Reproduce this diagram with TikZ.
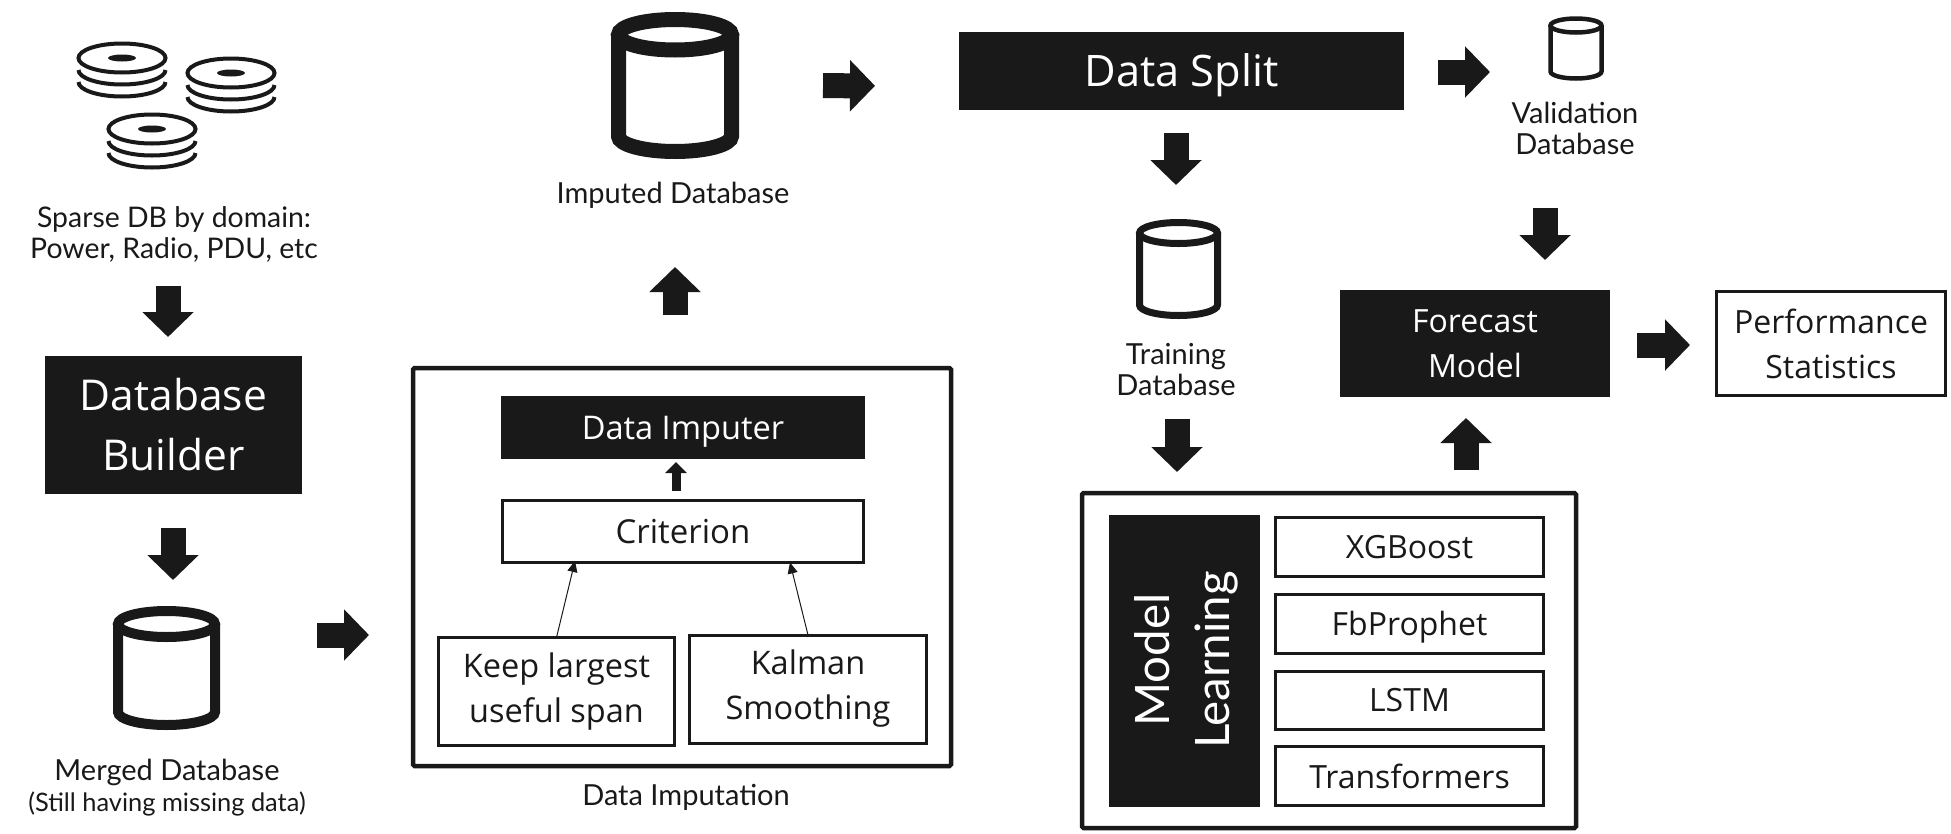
\documentclass[tikz,border=0pt]{standalone}
\usepackage{fontspec}
\usepackage{xcolor}
\usepackage{tikz}
\usetikzlibrary{arrows.meta, positioning}
\setmainfont{Open Sans}
\newfontfamily\labelfont{Lato}
\newcommand{\sizefont}[2]{\fontsize{#1}{#2}\selectfont}
\newcommand{\capmid}[2]{\raisebox{-#1pt}[0pt][0pt]{#2}}
\newcommand{\drawDb}[4]{%
  \draw[draw=boxDark, line width=#4pt] ([yshift=-#3pt]#1.north) ellipse [x radius=#2pt, y radius=#3pt];
  \draw[draw=boxDark, line width=#4pt] ([yshift=-#3pt]#1.north west) -- ([yshift=#3pt]#1.south west)
    arc [start angle=180, end angle=360, x radius=#2pt, y radius=#3pt] -- ([yshift=-#3pt]#1.north east);
}
\definecolor{boxDark}{RGB}{25,25,25}
\tikzset{
  blackNode/.style={
    fill=boxDark,
    text=white,
    align=center,
    inner sep=0pt,
    outer sep=0pt
  },
  whiteNode/.style={
    draw=boxDark,
    line width=3pt,
    fill=white,
    text=boxDark,
    align=center,
    inner sep=0pt,
    outer sep=0pt
  },
  frameNode/.style={draw=boxDark, line width=4.5pt, rounded corners=1.5pt, inner sep=0pt, outer sep=0pt},
  labelNode/.style={align=center, inner sep=0pt, outer sep=0pt, text=boxDark, font=\labelfont\sizefont{29}{31}},
  dbNode/.style={inner sep=0pt, outer sep=0pt},
  blockFlow/.style={-{Triangle[length=25pt,width=50pt]}, line width=25pt, draw=boxDark},
  smallFlow/.style={-{Triangle[length=11pt,width=21pt]}, line width=9pt, draw=boxDark},
  thinFlow/.style={-{Triangle[length=11pt,width=10pt]}, line width=1pt, draw=boxDark},
  diskStack/.pic={
    \draw[draw=boxDark, line width=4pt, fill=white] (0,0) ellipse [x radius=43.5pt, y radius=14.5pt];
    \draw[draw=boxDark, line width=4pt] (-43.5,-12) arc [start angle=180, end angle=360, x radius=43.5pt, y radius=14.5pt];
    \draw[draw=boxDark, line width=4pt] (-43.5,-24) arc [start angle=180, end angle=360, x radius=43.5pt, y radius=14.5pt];
    \fill[boxDark] (0,0) ellipse [x radius=14pt, y radius=3.5pt];
  }
}
\begin{document}
\begin{tikzpicture}[x=1pt, y=1pt]
  \useasboundingbox (0,0) rectangle (1951,-833);

  \pic at (122,-58) {diskStack};
  \pic at (231,-73) {diskStack};
  \pic at (152,-129) {diskStack};
  \node[labelNode, font=\labelfont\sizefont{28.4}{31}, minimum height=60pt] (sparse) at (174,-234) {Sparse DB by domain:\\Power, Radio, PDU, etc};

  \node[blackNode, minimum width=257pt, minimum height=138pt, font=\sizefont{42.5}{60}] (builder) at (173.5,-425) {Database\\Builder};
  \node[dbNode, minimum width=97pt, minimum height=114pt] (mergedDb) at (166.5,-668) {};
  \drawDb{mergedDb}{48.5}{13}{10}
  \node[labelNode] (merged) at (167,-788) {Merged Database\\{\sizefont{25.4}{31}(Still having missing data)}};

  \node[frameNode, minimum width=538pt, minimum height=398pt] (imputeFrame) at (682,-567) {};
  \node[blackNode, minimum width=364pt, minimum height=63pt, font=\sizefont{32.6}{40}] (imputer) at (683,-427.5) {\capmid{11.5}{Data Imputer}};
  \node[whiteNode, below=41.5pt of imputer, minimum width=361pt, minimum height=62pt, font=\sizefont{33}{40}] (criterion) {Criterion};
  \node[whiteNode, minimum width=236pt, minimum height=108pt, font=\sizefont{32.5}{45}] (keep) at (556.5,-691.5) {Keep largest\\useful span};
  \node[whiteNode, right=15pt of keep, yshift=2.5pt, minimum width=237pt, minimum height=108pt, font=\sizefont{32.5}{45}] (kalman) {Kalman\\Smoothing};
  \node[labelNode] (imputation) at (686,-797) {Data Imputation};

  \node[dbNode, minimum width=113pt, minimum height=132pt] (imputedDb) at (675,-85.5) {};
  \drawDb{imputedDb}{56.5}{15.25}{15}
  \node[labelNode, minimum height=36pt] (imputed) at (673,-195) {Imputed Database};

  \node[blackNode, minimum width=445pt, minimum height=78pt, font=\sizefont{43.4}{50}] (split) at (1181.5,-71) {\capmid{15.5}{Data Split}};
  \node[dbNode, minimum width=78pt, minimum height=93pt] (trainingDb) at (1178.5,-269) {};
  \drawDb{trainingDb}{39}{10.5}{7}
  \node[labelNode, minimum height=60pt] (training) at (1176,-370) {Training\\Database};
  \node[dbNode, minimum width=51pt, minimum height=60pt] (validationDb) at (1576,-48.5) {};
  \drawDb{validationDb}{25.5}{7}{4.5}
  \node[labelNode, minimum height=60pt] (validation) at (1575,-128) {Validation\\Database};

  \node[blackNode, minimum width=270pt, minimum height=107pt, font=\sizefont{32}{45}] (forecast) at (1475,-343.5) {Forecast\\Model};
  \node[whiteNode, minimum width=229pt, minimum height=104pt, font=\sizefont{32}{45}] (performance) at (1831,-343.5) {Performance\\Statistics};

  \node[frameNode, minimum width=494pt, minimum height=335pt] (learnFrame) at (1329,-660.5) {};
  \node[blackNode, minimum width=151pt, minimum height=292pt] (learnBox) at (1184.5,-661) {};
  \node[rotate=90, align=center, inner sep=0pt, text=white, font=\labelfont\sizefont{47.5}{60}] (learnText) at (1186.5,-660) {Model\\Learning};
  \node[whiteNode, minimum width=268pt, minimum height=59pt, font=\sizefont{32}{40}] (xgboost) at (1409.5,-547) {XGBoost};
  \node[whiteNode, below=18pt of xgboost, minimum width=268pt, minimum height=59pt, font=\sizefont{32}{40}] (prophet) {\capmid{11.5}{FbProphet}};
  \node[whiteNode, below=18pt of prophet, minimum width=268pt, minimum height=58pt, font=\sizefont{32}{40}] (lstm) {LSTM};
  \node[whiteNode, below=17pt of lstm, minimum width=268pt, minimum height=59pt, font=\sizefont{32}{40}] (transformers) {Transformers};

  \draw[blockFlow, shorten <=22pt, shorten >=19pt] ([xshift=-6pt]sparse.south) -- ([xshift=-5.5pt]builder.north);
  \draw[blockFlow, shorten <=34pt, shorten >=31pt] ([xshift=-0.5pt]builder.south) -- ([xshift=6.5pt]mergedDb.north);
  \draw[blockFlow, shorten <=102pt, shorten >=44pt] ([yshift=33pt]mergedDb.east) -- ([yshift=-68pt]imputeFrame.west);
  \draw[blockFlow, shorten <=53pt, shorten >=54pt] ([xshift=-7pt]imputeFrame.north) -- ([xshift=2pt]imputed.south);
  \draw[blockFlow, shorten <=91.5pt, shorten >=84pt] (imputedDb.east) -- ([yshift=-15pt]split.west);
  \draw[blockFlow, shorten <=34pt, shorten >=60.5pt] ([yshift=-1pt]split.east) -- ([yshift=-23.5pt]validationDb.west);
  \draw[blockFlow, shorten <=23pt, shorten >=37.5pt] ([xshift=-5.5pt]split.south) -- ([xshift=-2.5pt]trainingDb.north);
  \draw[blockFlow, shorten <=50pt, shorten >=30pt] ([xshift=-30pt]validation.south) -- ([xshift=70pt]forecast.north);
  \draw[blockFlow, shorten <=19pt, shorten >=21pt] ([xshift=1pt]training.south) -- ([xshift=-152pt]learnFrame.north);
  \draw[blockFlow, shorten <=23pt, shorten >=21pt] ([xshift=137pt]learnFrame.north) -- ([xshift=-9pt]forecast.south);
  \draw[blockFlow, shorten <=27pt, shorten >=26.5pt] ([yshift=-1.5pt]forecast.east) -- ([yshift=-1.5pt]performance.west);
  \draw[smallFlow, shorten <=9.5pt, shorten >=3pt] ([xshift=-7pt]criterion.north) -- ([xshift=-7pt]imputer.south);
  \draw[thinFlow] (keep.north) -- ([xshift=-108pt, yshift=1.5pt]criterion.south);
  \draw[thinFlow] (kalman.north) -- ([xshift=107pt]criterion.south);
\end{tikzpicture}
\end{document}
